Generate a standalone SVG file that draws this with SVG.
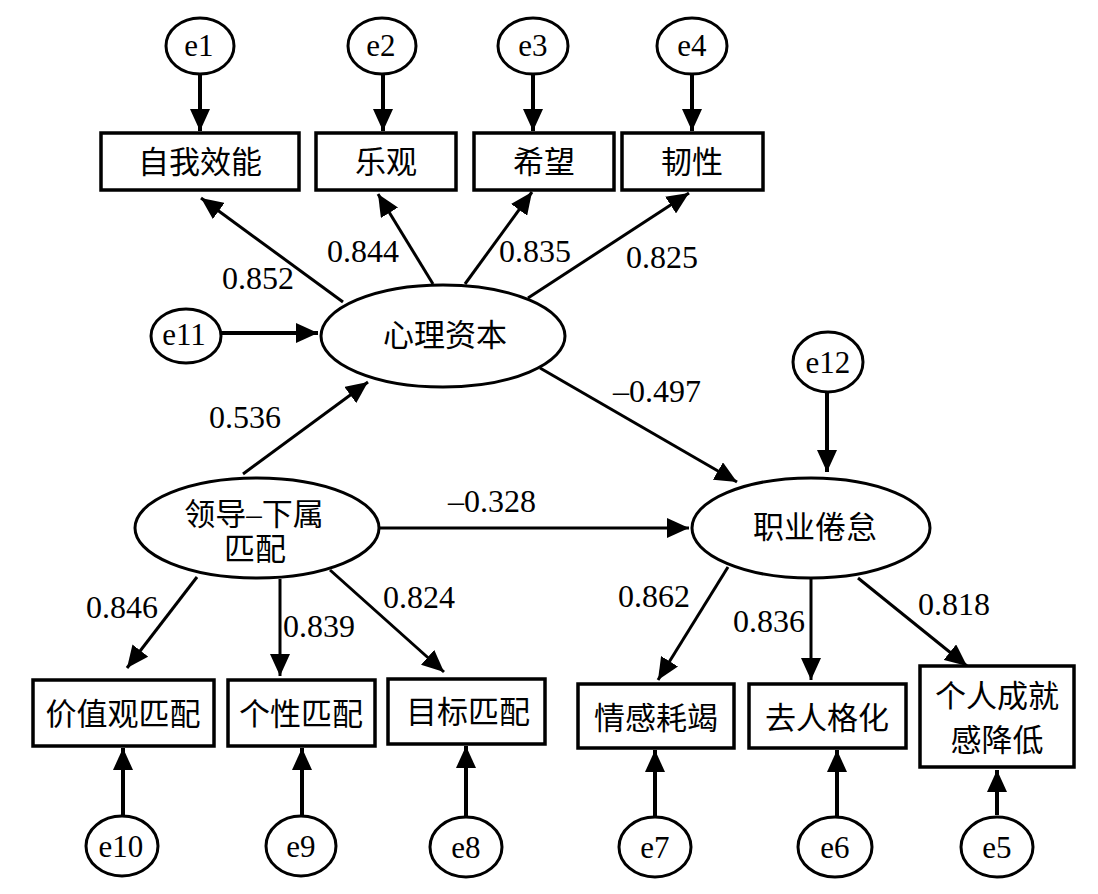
<svg xmlns="http://www.w3.org/2000/svg" width="1098" height="894" viewBox="0 0 1098 894" font-family="'Liberation Serif', 'Noto Sans CJK SC', serif">
<defs>
<style>
.bg{fill:#fff}
.box{fill:#fff;stroke:#000;stroke-width:3.5}
.lat{fill:#fff;stroke:#000;stroke-width:3}
.err{fill:#fff;stroke:#000;stroke-width:3}
.t{font-size:31px;fill:#000;text-anchor:middle}
.n{font-size:32px;fill:#000;text-anchor:middle}
.e{font-size:31px;fill:#000;text-anchor:middle}
.ea{stroke:#000;stroke-width:4;fill:none;marker-end:url(#ah)}
.pa{stroke:#000;stroke-width:3;fill:none;marker-end:url(#ah)}
</style>
<marker id="ah" markerUnits="userSpaceOnUse" markerWidth="22" markerHeight="20" viewBox="0 0 22 20" refX="22" refY="10" orient="auto">
<path d="M0,0 L22,10 L0,20 Z" fill="#000"/>
</marker>
</defs>
<rect class="bg" x="0" y="0" width="1098" height="894"/>

<g id="connectors">
<line class="ea" x1="200" y1="75" x2="200" y2="131"/>
<line class="ea" x1="383" y1="75" x2="383" y2="131"/>
<line class="ea" x1="533" y1="75" x2="533" y2="131"/>
<line class="ea" x1="692" y1="75" x2="692" y2="131"/>
<line class="ea" x1="221" y1="333" x2="318" y2="333"/>
<line class="ea" x1="827" y1="393" x2="827" y2="472"/>
<line class="ea" x1="123" y1="815" x2="123" y2="748"/>
<line class="ea" x1="302" y1="815" x2="302" y2="748"/>
<line class="ea" x1="466" y1="817" x2="466" y2="746"/>
<line class="ea" x1="655" y1="817" x2="655" y2="750"/>
<line class="ea" x1="837" y1="817" x2="837" y2="750"/>
<line class="ea" x1="997" y1="815" x2="997" y2="770"/>
<line class="pa" x1="343" y1="302" x2="201" y2="198"/>
<line class="pa" x1="433" y1="284" x2="378" y2="194"/>
<line class="pa" x1="465" y1="284" x2="532" y2="192"/>
<line class="pa" x1="528" y1="298" x2="689" y2="193"/>
<line class="pa" x1="243" y1="474" x2="368" y2="382"/>
<line class="pa" x1="540" y1="368" x2="737" y2="482"/>
<line class="pa" x1="380" y1="528" x2="689" y2="528"/>
<line class="pa" x1="197" y1="577" x2="127" y2="668"/>
<line class="pa" x1="280" y1="579" x2="280" y2="676"/>
<line class="pa" x1="330" y1="570" x2="444" y2="672"/>
<line class="pa" x1="728" y1="567" x2="658" y2="680"/>
<line class="pa" x1="811" y1="578" x2="811" y2="680"/>
<line class="pa" x1="858" y1="578" x2="967" y2="666"/>
</g>

<g id="labels">
<text class="n" x="258" y="289">0.852</text>
<text class="n" x="363" y="262">0.844</text>
<text class="n" x="535" y="262">0.835</text>
<text class="n" x="662" y="268">0.825</text>
<text class="n" x="245" y="428">0.536</text>
<text class="n" x="657" y="402">–0.497</text>
<text class="n" x="492" y="512">–0.328</text>
<text class="n" x="122" y="618">0.846</text>
<text class="n" x="319" y="637">0.839</text>
<text class="n" x="419" y="608">0.824</text>
<text class="n" x="654" y="607">0.862</text>
<text class="n" x="769" y="632">0.836</text>
<text class="n" x="954" y="615">0.818</text>
</g>

<g id="e1"><ellipse class="err" cx="200" cy="46" rx="34" ry="28"/><text class="e" x="199" y="56">e1</text></g>
<g id="e2"><ellipse class="err" cx="382" cy="46" rx="34" ry="28"/><text class="e" x="381" y="56">e2</text></g>
<g id="e3"><ellipse class="err" cx="533" cy="46" rx="35" ry="28"/><text class="e" x="533" y="56">e3</text></g>
<g id="e4"><ellipse class="err" cx="692" cy="46" rx="35" ry="28"/><text class="e" x="692" y="56">e4</text></g>

<g id="box-selfefficacy"><rect class="box" x="101" y="133" width="198" height="57"/><text class="t" x="200" y="173">自我效能</text></g>
<g id="box-optimism"><rect class="box" x="316" y="133" width="140" height="57"/><text class="t" x="386" y="173">乐观</text></g>
<g id="box-hope"><rect class="box" x="474" y="133" width="140" height="57"/><text class="t" x="544" y="173">希望</text></g>
<g id="box-resilience"><rect class="box" x="622" y="133" width="141" height="57"/><text class="t" x="692" y="173">韧性</text></g>

<g id="e11"><ellipse class="err" cx="186" cy="336" rx="35" ry="27"/><text class="e" x="184" y="345">e11</text></g>
<g id="psycap"><ellipse class="lat" cx="443" cy="336" rx="122" ry="51"/><text class="t" x="445" y="346">心理资本</text></g>

<g id="e12"><ellipse class="err" cx="828" cy="362" rx="35" ry="30"/><text class="e" x="828" y="373">e12</text></g>
<g id="burnout"><ellipse class="lat" cx="811" cy="528" rx="119" ry="50"/><text class="t" x="815" y="538">职业倦怠</text></g>

<g id="lmx"><ellipse class="lat" cx="257" cy="528" rx="122" ry="50"/><text class="t" x="254" y="525">领导–下属</text><text class="t" x="255" y="560">匹配</text></g>

<g id="box-value"><rect class="box" x="33" y="680" width="181" height="66"/><text class="t" x="123" y="725">价值观匹配</text></g>
<g id="box-personality"><rect class="box" x="228" y="680" width="147" height="66"/><text class="t" x="301" y="725">个性匹配</text></g>
<g id="box-goal"><rect class="box" x="388" y="679" width="157" height="65"/><text class="t" x="468" y="723">目标匹配</text></g>
<g id="box-exhaustion"><rect class="box" x="578" y="684" width="156" height="64"/><text class="t" x="656" y="729">情感耗竭</text></g>
<g id="box-depersonal"><rect class="box" x="749" y="684" width="157" height="64"/><text class="t" x="827" y="729">去人格化</text></g>
<g id="box-accomplish"><rect class="box" x="920" y="666" width="154" height="101"/><text class="t" x="997" y="707">个人成就</text><text class="t" x="997" y="751">感降低</text></g>

<g id="e10"><ellipse class="err" cx="122" cy="846" rx="36" ry="30"/><text class="e" x="121" y="857">e10</text></g>
<g id="e9"><ellipse class="err" cx="301" cy="846" rx="35" ry="30"/><text class="e" x="301" y="857">e9</text></g>
<g id="e8"><ellipse class="err" cx="466" cy="847" rx="36" ry="30"/><text class="e" x="466" y="858">e8</text></g>
<g id="e7"><ellipse class="err" cx="655" cy="847" rx="36" ry="30"/><text class="e" x="655" y="858">e7</text></g>
<g id="e6"><ellipse class="err" cx="835" cy="847" rx="37" ry="30"/><text class="e" x="835" y="858">e6</text></g>
<g id="e5"><ellipse class="err" cx="997" cy="847" rx="36" ry="30"/><text class="e" x="997" y="858">e5</text></g>
</svg>
